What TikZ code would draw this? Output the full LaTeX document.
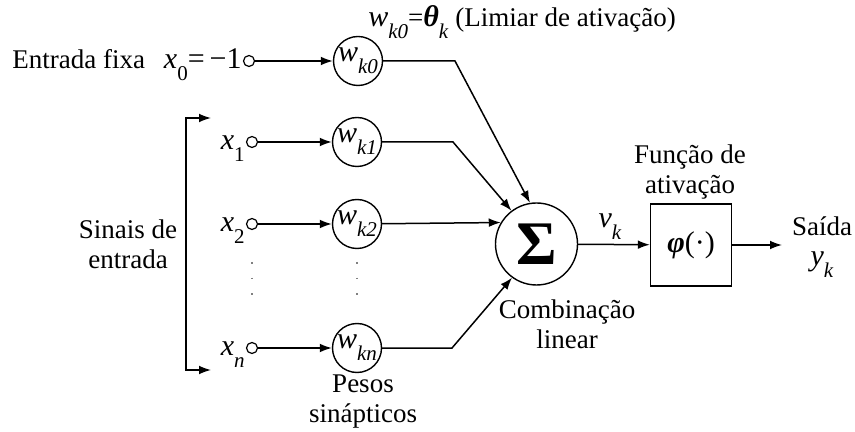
\documentclass[tikz,border=0pt]{standalone}
\usepackage{fontspec}
\setmainfont{Liberation Serif}
\usetikzlibrary{arrows.meta}
\newcommand{\vr}[2]{{\fontsize{15}{16}\selectfont\textit{#1}}\raisebox{-0.95ex}{\fontsize{10.5}{11}\selectfont #2}}
\tikzset{
 ln/.style={line width=0.75pt},
 arr/.style={ln,-{Latex[length=6pt,width=4.4pt]}},
 inc/.style={circle,draw,line width=0.6pt,minimum size=5.5pt,inner sep=0pt},
 wc/.style={circle,draw,line width=0.7pt,minimum size=24.5pt,inner sep=0pt},
 sumc/.style={circle,draw,line width=0.7pt,minimum size=41pt,inner sep=0pt,font=\fontsize{31}{31}\selectfont\bfseries},
 fbox/.style={rectangle,draw,line width=0.7pt,minimum width=40.5pt,minimum height=41pt,inner sep=0pt,font=\fontsize{15}{16}\selectfont},
 lbl/.style={inner sep=0pt,align=center},
 dotl/.style={line width=0.8pt,gray,dash pattern=on 0.8pt off 7pt},
}
\begin{document}
\begin{tikzpicture}[x=0.5pt,y=-0.5pt,font=\fontsize{13.5}{15}\selectfont]
\useasboundingbox (0,0) rectangle (855,432);
% input terminals
\node[inc] (c0) at (249,61) {};
\node[inc] (c1) at (252,142) {};
\node[inc] (c2) at (252,224) {};
\node[inc] (cn) at (252,348) {};
% weights
\node[wc] (w0) at (358,61) {\vr{w}{\textit{k0}}};
\node[wc] (w1) at (357,142) {\vr{w}{\textit{k1}}};
\node[wc] (w2) at (357,224) {\vr{w}{\textit{k2}}};
\node[wc] (wn) at (357,348) {\vr{w}{\textit{kn}}};
% summation and activation
\node[sumc] (sum) at (536.5,244) {Σ};
\node[fbox] (phi) at (691,245) {\textbf{\textit{φ}}(·)};
\coordinate (out) at (782,245);
% labels
\node[lbl,anchor=east] (lx0) at (242,65) {Entrada fixa\hspace{0.7em}\vr{x}{0}{\fontsize{15}{16}\selectfont=\,−1}};
\node[lbl,anchor=east] (lx1) at (245,149) {\vr{x}{1}};
\node[lbl,anchor=east] (lx2) at (245,231) {\vr{x}{2}};
\node[lbl,anchor=east] (lxn) at (245,355) {\vr{x}{\textit{n}}};
\node[lbl] (top) at (522,22) {\vr{w}{\textit{k0}}=\vr{\textbf{\textit{θ}}}{\textit{k}}\ (Limiar de ativação)};
\node[lbl] (sinais) at (128,244) {Sinais de\\entrada};
\node[lbl] (pesos) at (363,402) {Pesos\\sinápticos};
\node[lbl] (comb) at (567,324) {Combinação\\linear};
\node[lbl] (func) at (690,172) {Função de\\ativação};
\node[lbl] (vk) at (610,227) {\vr{v}{\textit{k}}};
\node[lbl] (saida) at (822,247) {Saída\\\vr{y}{\textit{k}}};
% connectors
\draw[arr] (c0) -- (w0);
\draw[arr] (c1) -- (w1);
\draw[arr] (c2) -- (w2);
\draw[arr] (cn) -- (wn);
\coordinate (b0) at (455,61);
\coordinate (b1) at (453,142);
\coordinate (bn) at (452,348);
\draw[arr] (w0) -- (b0) -- (sum.99);
\draw[arr] (w1) -- (b1) -- (sum.127);
\draw[arr] (w2) -- (sum.149);
\draw[arr] (wn) -- (bn) -- (sum.234);
\draw[arr] (sum) -- (phi);
\draw[arr] (phi) -- (out);
% bracket
\coordinate (bte) at (211,118);
\coordinate (bt) at (186,118);
\coordinate (bb) at (186,370);
\coordinate (bbe) at (211,370);
\draw[ln,{Latex[length=6pt,width=4.4pt]}-{Latex[length=6pt,width=4.4pt]}] (bte) -- (bt) -- (bb) -- (bbe);
% ellipsis dots
\draw[dotl] (252,262) -- (252,304);
\draw[dotl] (357,262) -- (357,304);
\end{tikzpicture}
\end{document}
